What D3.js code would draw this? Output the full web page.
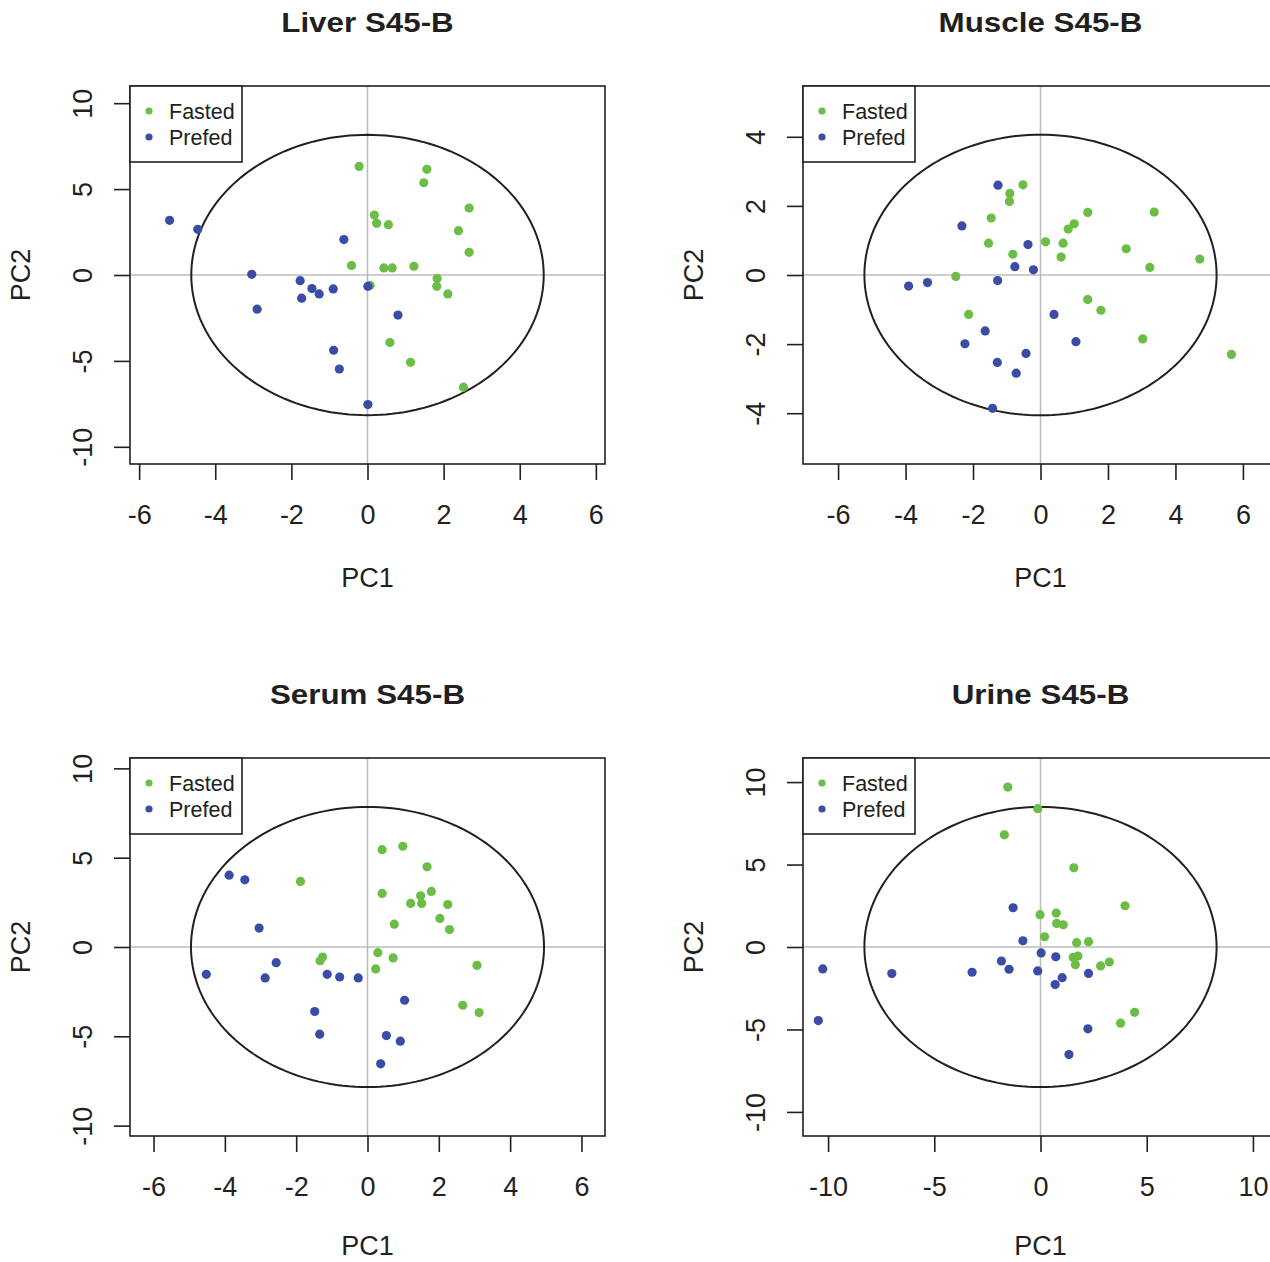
<!DOCTYPE html>
<html><head><meta charset="utf-8">
<script src="https://cdn.jsdelivr.net/npm/d3@7"></script>
<style>
body{margin:0;background:#fff}
svg{display:block}
text{font-family:"Liberation Sans",Arial,Helvetica,sans-serif;fill:#231f20}
</style>
</head><body>
<svg id="c" width="1270" height="1262"></svg>
<script>
// ---------- data ----------
const groups = ["Fasted", "Prefed"];
const panelTitles = ["Liver S45-B", "Muscle S45-B", "Serum S45-B", "Urine S45-B"];

const liverFastedX = [-0.22,1.56,1.48,2.67,0.18,0.24,0.55,2.39,2.67,-0.42,0.43,0.65,1.22,1.83,1.82,2.11,0.07,0.59,1.13,2.52];
const liverFastedY = [6.32,6.15,5.37,3.90,3.49,3.01,2.93,2.58,1.32,0.55,0.41,0.41,0.51,-0.21,-0.66,-1.10,-0.60,-3.93,-5.08,-6.53];
const liverPrefedX = [-5.20,-4.46,-0.62,-3.04,-1.77,-1.46,-1.27,-0.90,-1.73,0.01,-2.90,0.80,-0.89,-0.74,0.01];
const liverPrefedY = [3.18,2.66,2.06,0.04,-0.33,-0.79,-1.10,-0.81,-1.35,-0.66,-1.99,-2.33,-4.38,-5.47,-7.54];

const muscleFastedX = [-0.52,-0.91,-0.92,-1.46,1.40,3.37,1.00,0.82,-1.54,0.15,0.67,-0.82,0.61,2.54,4.72,3.24,-2.51,1.40,1.79,-2.13,3.03,5.66];
const muscleFastedY = [2.61,2.36,2.13,1.65,1.81,1.82,1.48,1.33,0.92,0.96,0.92,0.60,0.52,0.76,0.46,0.22,-0.04,-0.71,-1.02,-1.14,-1.85,-2.30];
const musclePrefedX = [-1.26,-2.33,-0.37,-0.76,-0.21,-3.91,-3.35,-1.27,0.40,-1.64,-2.24,1.05,-0.43,-1.28,-0.72,-1.42];
const musclePrefedY = [2.60,1.42,0.88,0.24,0.15,-0.32,-0.22,-0.16,-1.14,-1.62,-1.99,-1.93,-2.27,-2.53,-2.84,-3.86];

const serumFastedX = [0.41,0.99,1.67,-1.88,0.41,1.79,1.49,1.21,1.52,2.25,2.03,2.30,0.75,-1.26,-1.33,0.29,0.72,0.23,3.07,2.67,3.13];
const serumFastedY = [5.45,5.64,4.49,3.67,3.00,3.11,2.87,2.44,2.44,2.38,1.60,0.98,1.28,-0.56,-0.77,-0.32,-0.61,-1.23,-1.03,-3.26,-3.67];
const serumPrefedX = [-3.88,-3.44,-3.04,-4.52,-2.56,-2.87,-1.13,-0.78,-0.26,1.04,-1.48,-1.34,0.53,0.92,0.37];
const serumPrefedY = [4.02,3.76,1.06,-1.53,-0.88,-1.73,-1.53,-1.68,-1.73,-2.98,-3.61,-4.88,-4.96,-5.27,-6.54];

const urineFastedX = [-1.54,-0.13,-1.70,1.57,3.98,-0.02,0.74,0.76,1.07,0.19,1.70,2.26,1.54,1.76,1.64,2.83,3.24,4.43,3.77];
const urineFastedY = [9.70,8.39,6.80,4.80,2.50,1.96,2.06,1.43,1.35,0.62,0.26,0.32,-0.63,-0.55,-1.07,-1.15,-0.91,-3.96,-4.62];
const urinePrefedX = [-1.29,-0.83,0.03,0.72,-1.84,-1.48,-0.13,1.02,0.69,2.26,-3.22,-7.00,-10.25,-10.46,2.23,1.34];
const urinePrefedY = [2.38,0.38,-0.36,-0.59,-0.85,-1.35,-1.45,-1.86,-2.28,-1.60,-1.53,-1.61,-1.33,-4.46,-4.96,-6.52];

// confidence ellipse half-axes (PC1, PC2)
const ellipseRadii = [[4.63,8.16],[5.22,4.06],[4.95,7.84],[8.29,8.49]];
// axis limits (symmetric)
const xLimits = [6.24, 7.04, 6.66, 11.18];
const yLimits = [11.0, 5.47, 10.58, 11.46];
// tick labels
const xTicks = [[-6,-4,-2,0,2,4,6],[-6,-4,-2,0,2,4,6],[-6,-4,-2,0,2,4,6],[-10,-5,0,5,10]];
const yTicks = [[-10,-5,0,5,10],[-4,-2,0,2,4],[-10,-5,0,5,10],[-10,-5,0,5,10]];

const seriesX = [[liverFastedX,liverPrefedX],[muscleFastedX,musclePrefedX],[serumFastedX,serumPrefedX],[urineFastedX,urinePrefedX]];
const seriesY = [[liverFastedY,liverPrefedY],[muscleFastedY,musclePrefedY],[serumFastedY,serumPrefedY],[urineFastedY,urinePrefedY]];

// ---------- drawing ----------
const ink = "#231f20", grid = "#bdbdbd";
const colors = ["#6cbd45", "#3a4ca5"];
const svg = d3.select("#c");

panelTitles.forEach((title, i) => {
  const col = i % 2, row = Math.floor(i / 2);
  const x0 = 130 + col * 673, y0 = 86 + row * 672, w = 475, h = 378;
  const x = d3.scaleLinear().domain([-xLimits[i], xLimits[i]]).range([x0, x0 + w]);
  const y = d3.scaleLinear().domain([-yLimits[i], yLimits[i]]).range([y0 + h, y0]);
  const g = svg.append("g");

  // reference lines
  g.append("line").attr("x1", x(0)).attr("x2", x(0)).attr("y1", y0).attr("y2", y0 + h)
    .attr("stroke", grid).attr("stroke-width", 1.6);
  g.append("line").attr("x1", x0).attr("x2", x0 + w).attr("y1", y(0)).attr("y2", y(0))
    .attr("stroke", grid).attr("stroke-width", 1.6);

  // ellipse
  const [rx, ry] = ellipseRadii[i];
  const ang = d3.range(0, 361, 2).map(a => a * Math.PI / 180);
  const ell = d3.line().x(a => x(rx * Math.cos(a))).y(a => y(ry * Math.sin(a)));
  g.append("path").attr("d", ell(ang)).attr("fill", "none").attr("stroke", ink).attr("stroke-width", 2);

  // points
  groups.forEach((grp, k) => {
    const xs = seriesX[i][k], ys = seriesY[i][k];
    g.append("g").selectAll("circle").data(xs.map((v, j) => [v, ys[j]])).join("circle")
      .attr("cx", d => x(d[0])).attr("cy", d => y(d[1])).attr("r", 4.6)
      .attr("fill", colors[k]);
  });

  // box
  g.append("rect").attr("x", x0).attr("y", y0).attr("width", w).attr("height", h)
    .attr("fill", "none").attr("stroke", ink).attr("stroke-width", 1.6);

  // legend
  const lg = g.append("g");
  lg.append("rect").attr("x", x0).attr("y", y0).attr("width", 112).attr("height", 76)
    .attr("fill", "#fff").attr("stroke", ink).attr("stroke-width", 1.6);
  groups.forEach((grp, k) => {
    lg.append("circle").attr("cx", x0 + 19).attr("cy", y0 + 25 + k * 26).attr("r", 3.6).attr("fill", colors[k]);
    lg.append("text").attr("x", x0 + 39).attr("y", y0 + 25 + k * 26 + 7.7)
      .attr("font-size", 21.5).text(grp);
  });

  // axes
  const xa = g.append("g").attr("transform", `translate(0,${y0 + h})`)
    .call(d3.axisBottom(x).tickValues(xTicks[i]).tickSize(16).tickSizeOuter(0).tickPadding(25)
      .tickFormat(d => String(d)));
  xa.select(".domain").remove();
  xa.attr("color", ink).attr("font-family", null).attr("font-size", 27);
  xa.selectAll("line").attr("stroke-width", 1.6);

  const ya = g.append("g").attr("transform", `translate(${x0},0)`)
    .call(d3.axisLeft(y).tickValues(yTicks[i]).tickSize(16).tickSizeOuter(0)
      .tickFormat(d => String(d)));
  ya.select(".domain").remove();
  ya.attr("color", ink).attr("font-family", null).attr("font-size", 27);
  ya.selectAll("line").attr("stroke-width", 1.6);
  ya.selectAll("text").attr("transform", "rotate(-90)").attr("x", 0).attr("y", -38)
    .attr("dy", null).attr("text-anchor", "middle");

  // axis titles
  g.append("text").attr("x", x0 + w / 2).attr("y", y0 + h + (row === 0 ? 123 : 119)).attr("text-anchor", "middle")
    .attr("font-size", 27).text("PC1");
  g.append("text").attr("transform", `translate(${x0 - 100.5},${y0 + h / 2}) rotate(-90)`)
    .attr("text-anchor", "middle").attr("font-size", 27).text("PC2");

  // title
  g.append("text").attr("transform", `translate(${x0 + w / 2},${y0 - 54.3}) scale(1.12,1)`)
    .attr("text-anchor", "middle").attr("font-size", 28).attr("font-weight", "bold").text(title);
});
</script>
</body></html>
